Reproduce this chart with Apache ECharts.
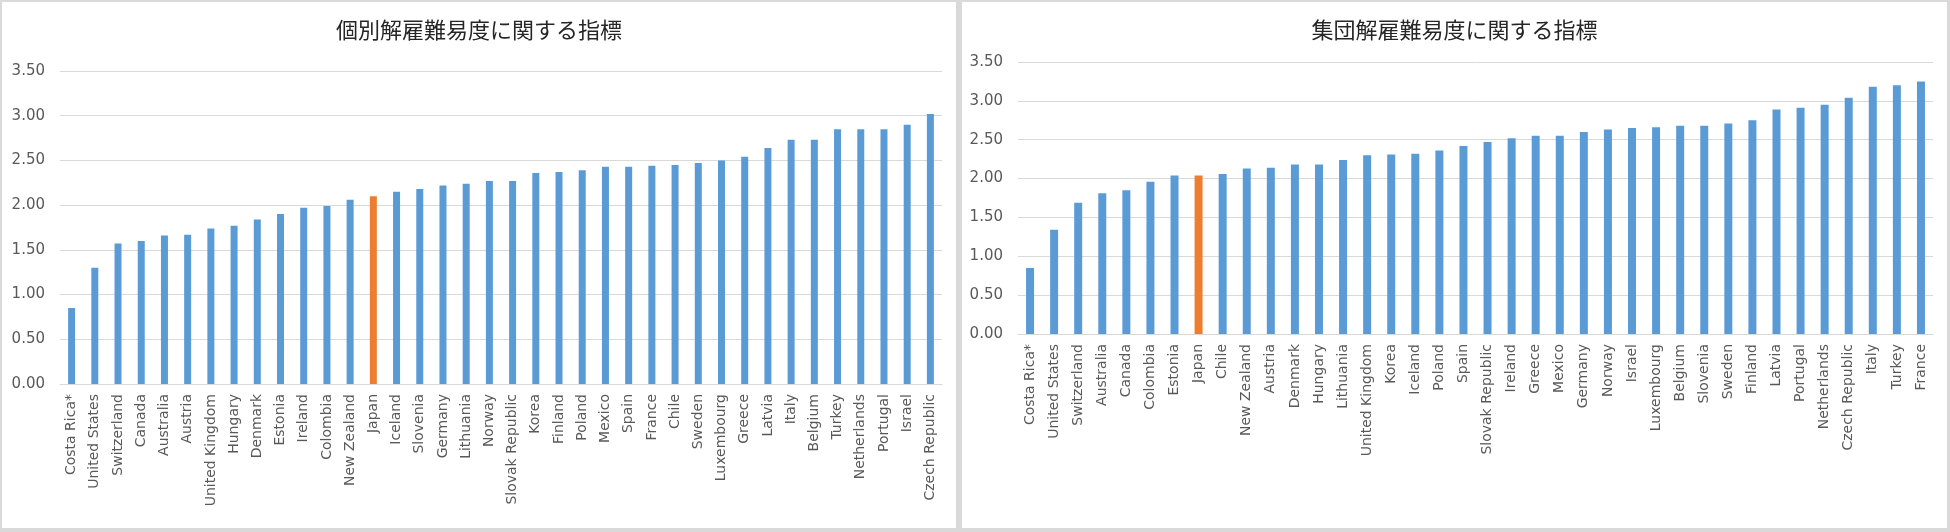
<!DOCTYPE html>
<html>
<head>
<meta charset="utf-8">
<script src="https://cdn.jsdelivr.net/npm/echarts@6/dist/echarts.min.js"></script>
<style>
  html, body { margin: 0; padding: 0; }
  body { width: 1950px; height: 532px; background: #d9d9d9; position: relative; overflow: hidden; }
  .panel { position: absolute; background: #ffffff; }
  #c1 { left: 2px; top: 2px; width: 954px; height: 526px; }
  #c2 { left: 962px; top: 2px; width: 985px; height: 526px; }
</style>
</head>
<body>
<div id="c1" class="panel"></div>
<div id="c2" class="panel"></div>
<script>
// Chart 1: individual dismissal
const title1 = '個別解雇難易度に関する指標';
const countries1 = ['Costa Rica*','United States','Switzerland','Canada','Australia','Austria','United Kingdom','Hungary','Denmark','Estonia','Ireland','Colombia','New Zealand','Japan','Iceland','Slovenia','Germany','Lithuania','Norway','Slovak Republic','Korea','Finland','Poland','Mexico','Spain','France','Chile','Sweden','Luxembourg','Greece','Latvia','Italy','Belgium','Turkey','Netherlands','Portugal','Israel','Czech Republic'];
const values1 = [0.85,1.30,1.57,1.60,1.66,1.67,1.74,1.77,1.84,1.90,1.97,1.99,2.06,2.10,2.15,2.18,2.22,2.24,2.27,2.27,2.36,2.37,2.39,2.43,2.43,2.44,2.45,2.47,2.50,2.54,2.64,2.73,2.73,2.85,2.85,2.85,2.90,3.02];

// Chart 2: collective dismissal
const title2 = '集団解雇難易度に関する指標';
const countries2 = ['Costa Rica*','United States','Switzerland','Australia','Canada','Colombia','Estonia','Japan','Chile','New Zealand','Austria','Denmark','Hungary','Lithuania','United Kingdom','Korea','Iceland','Poland','Spain','Slovak Republic','Ireland','Greece','Mexico','Germany','Norway','Israel','Luxembourg','Belgium','Slovenia','Sweden','Finland','Latvia','Portugal','Netherlands','Czech Republic','Italy','Turkey','France'];
const values2 = [0.85,1.34,1.69,1.81,1.85,1.96,2.04,2.04,2.06,2.13,2.14,2.18,2.18,2.24,2.30,2.31,2.32,2.36,2.42,2.47,2.52,2.55,2.55,2.60,2.63,2.65,2.66,2.68,2.68,2.71,2.75,2.89,2.91,2.95,3.04,3.18,3.20,3.25];

const highlight = 'Japan';
const blue = '#5B9BD5';
const orange = '#ED7D31';

function makeOption(title, cats, vals, grid, barW) {
  return {
    animation: false,
    title: {
      text: title,
      left: 'center',
      top: 12,
      textStyle: { fontFamily: 'Noto Sans CJK JP', fontSize: 22, fontWeight: 'normal', color: '#262626' }
    },
    grid: grid,
    xAxis: {
      type: 'category',
      data: cats,
      axisTick: { show: false },
      axisLine: { lineStyle: { color: '#d9d9d9', width: 1 } },
      axisLabel: {
        interval: 0, rotate: 90, margin: 10,
        fontFamily: 'DejaVu Sans', fontSize: 14, color: '#595959'
      }
    },
    yAxis: {
      type: 'value',
      min: 0, max: 3.5, interval: 0.5,
      axisLine: { show: false },
      axisTick: { show: false },
      splitLine: { lineStyle: { color: '#d9d9d9', width: 1 } },
      axisLabel: {
        margin: 15,
        fontFamily: 'DejaVu Sans', fontSize: 15, color: '#595959',
        formatter: v => v.toFixed(2)
      }
    },
    series: [{
      type: 'bar',
      barWidth: barW,
      data: vals.map((v, i) => ({
        value: v,
        itemStyle: { color: cats[i] === highlight ? orange : blue }
      }))
    }]
  };
}

const ch1 = echarts.init(document.getElementById('c1'));
ch1.setOption(makeOption(title1, countries1, values1, { left: 58, right: 14, top: 69, bottom: 144 }, 7));

const ch2 = echarts.init(document.getElementById('c2'));
ch2.setOption(makeOption(title2, countries2, values2, { left: 56, right: 14, top: 60, bottom: 194 }, 8));
</script>
</body>
</html>
